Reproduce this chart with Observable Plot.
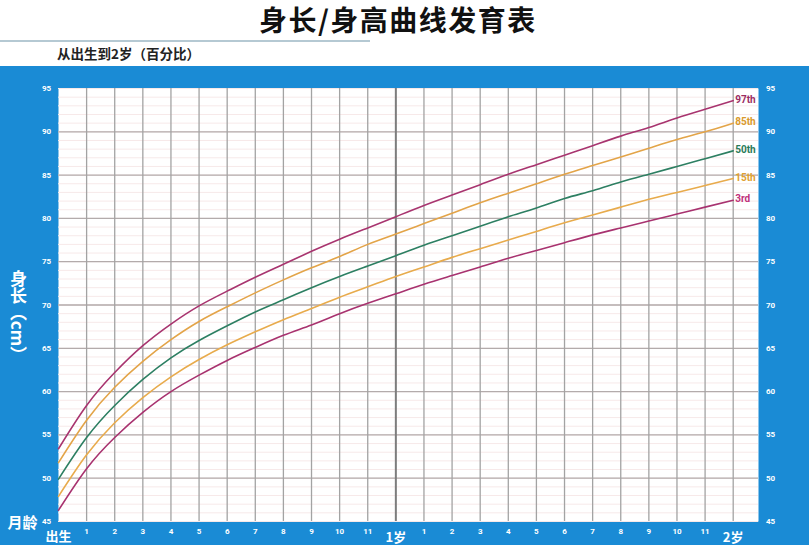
<!DOCTYPE html>
<html>
<head>
<meta charset="utf-8">
<script src="https://cdn.jsdelivr.net/npm/d3@7"></script>
<script src="https://cdn.jsdelivr.net/npm/@observablehq/plot@0.6"></script>
<style>
  html, body { margin: 0; padding: 0; background: #fff; }
  #wrap { width: 809px; height: 545px; overflow: hidden; }
  #header { position: relative; width: 809px; height: 66px; font-family: "Noto Sans CJK SC", sans-serif; }
  #title { position: absolute; left: 259px; top: 4px; line-height: 30px; white-space: nowrap; font-size: 28px; font-weight: 700; letter-spacing: 1.5px; color: #111; }
  #rule { position: absolute; left: 0; top: 40px; width: 370px; height: 2px; background: #b5c9d3; }
  #subtitle { position: absolute; left: 57px; top: 44px; font-size: 13.5px; line-height: 18px; font-weight: 700; color: #222; }
  #chart svg { display: block; }
</style>
</head>
<body>
<div id="wrap">
  <div id="header">
    <div id="title">身长/身高曲线发育表</div>
    <div id="rule"></div>
    <div id="subtitle">从出生到2岁（百分比）</div>
  </div>
  <div id="chart"></div>
</div>
<script>
// Data (months 0..24), length in cm
const months = [0,1,2,3,4,5,6,7,8,9,10,11,12,13,14,15,16,17,18,19,20,21,22,23,24];
const p3  = [46.3,51.1,54.7,57.6,60.0,61.9,63.6,65.1,66.5,67.7,69.0,70.2,71.3,72.4,73.4,74.4,75.4,76.3,77.2,78.1,78.9,79.7,80.5,81.3,82.1];
const p15 = [47.9,52.7,56.4,59.3,61.7,63.7,65.4,66.9,68.3,69.6,70.9,72.1,73.3,74.4,75.5,76.5,77.5,78.5,79.5,80.4,81.3,82.2,83.0,83.8,84.6];
const p50 = [49.9,54.7,58.4,61.4,63.9,65.9,67.6,69.2,70.6,72.0,73.3,74.5,75.7,76.9,78.0,79.1,80.2,81.2,82.3,83.2,84.2,85.1,86.0,86.9,87.8];
const p85 = [51.8,56.7,60.5,63.5,66.0,68.1,69.8,71.4,72.9,74.3,75.6,77.0,78.2,79.4,80.6,81.8,82.9,84.0,85.1,86.1,87.1,88.1,89.1,90.0,91.0];
const p97 = [53.4,58.4,62.2,65.3,67.8,69.9,71.6,73.2,74.7,76.2,77.6,78.9,80.2,81.5,82.7,83.9,85.1,86.2,87.3,88.4,89.5,90.5,91.6,92.6,93.6];
const seriesNames = ["97th","85th","50th","15th","3rd"];
const seriesValues = [p97, p85, p50, p15, p3];
const lineColors  = ["#a8346f","#e3a448","#2d7f62","#e8ab4c","#a8326f"];
const labelColors = ["#9b2d62","#d99a2c","#2a7a58","#e0a030","#c0307a"];
const yTicks = [45,50,55,60,65,70,75,80,85,90,95];
const monthTicks = [1,2,3,4,5,6,7,8,9,10,11,13,14,15,16,17,18,19,20,21,22,23];
const monthTickLabels = ["1","2","3","4","5","6","7","8","9","10","11","1","2","3","4","5","6","7","8","9","10","11"];
const yearTicks = [12, 24];
const yearLabels = ["1岁","2岁"];

const rows = seriesNames.flatMap((s, i) => months.map((m, j) => ({series: s, month: m, cm: seriesValues[i][j]})));
const ends = seriesNames.map((s, i) => ({series: s, month: 24, cm: seriesValues[i][24], color: labelColors[i]}));
const minor = d3.range(45, 96, 1);
const allVert = d3.range(1, 25);

const svg = Plot.plot({
  width: 809,
  height: 479,
  marginTop: 22,
  marginBottom: 24,
  marginLeft: 58,
  marginRight: 51,
  x: {domain: [0, 24.9], axis: null},
  y: {domain: [45, 95], axis: null},
  color: {domain: seriesNames, range: lineColors},
  style: {background: "#1a8bd5", fontFamily: "Roboto, 'Noto Sans CJK SC', sans-serif"},
  marks: [
    Plot.frame({fill: "white", stroke: "none"}),
    Plot.ruleY(minor, {stroke: "#f7e9e9", strokeWidth: 1}),
    Plot.ruleY(yTicks.slice(1, -1), {stroke: "#b3abab", strokeWidth: 1.3}),
    Plot.ruleX(allVert.filter(d => d !== 12), {stroke: "#a3a3a3", strokeWidth: 1.3}),
    Plot.ruleX([12], {stroke: "#7d7d7d", strokeWidth: 2}),
    Plot.line(rows, {x: "month", y: "cm", z: "series", stroke: "series", strokeWidth: 1.6, curve: "natural"}),
    Plot.text(ends, {x: "month", y: "cm", text: "series", fill: "color", textAnchor: "start", dx: 2, dy: -1, fontSize: 10, fontWeight: "bold"}),
    // y tick labels left and right
    Plot.text(yTicks, {x: 0, y: d => d, text: d => String(d), dx: -12, fill: "white", fontSize: 8, fontWeight: "bold"}),
    Plot.text(yTicks, {x: 24.9, y: d => d, text: d => String(d), dx: 12, fill: "white", fontSize: 8, fontWeight: "bold"}),
    // month tick labels
    Plot.text(monthTicks, {x: d => d, y: 45, text: (d, i) => monthTickLabels[i], dy: 10, fill: "white", fontSize: 8, fontWeight: "bold"}),
    Plot.text(yearTicks, {x: d => d, y: 45, text: (d, i) => yearLabels[i], dy: 16, fill: "white", fontSize: 13, fontWeight: "bold", fontFamily: "'Noto Sans CJK SC', sans-serif"}),
    Plot.text(["出生"], {x: 0, y: 45, text: d => d, dy: 15, fill: "white", fontSize: 13, fontWeight: "bold", fontFamily: "'Noto Sans CJK SC', sans-serif"}),
    Plot.text(["月龄"], {x: 0, y: 45, text: d => d, dx: -36, dy: 2, fill: "white", fontSize: 15, fontWeight: "bold", fontFamily: "'Noto Sans CJK SC', sans-serif"}),
    Plot.text(["身长（cm）"], {x: 0, y: 69.3, text: d => d, dx: -40, fill: "white", fontSize: 17, fontWeight: "bold", fontFamily: "'Noto Sans CJK SC', sans-serif"})
  ]
});

d3.select(svg).selectAll("text").filter(function() { return this.textContent === "身长（cm）"; })
  .style("writing-mode", "vertical-rl").attr("dy", null);

document.getElementById("chart").appendChild(svg);
</script>
</body>
</html>
